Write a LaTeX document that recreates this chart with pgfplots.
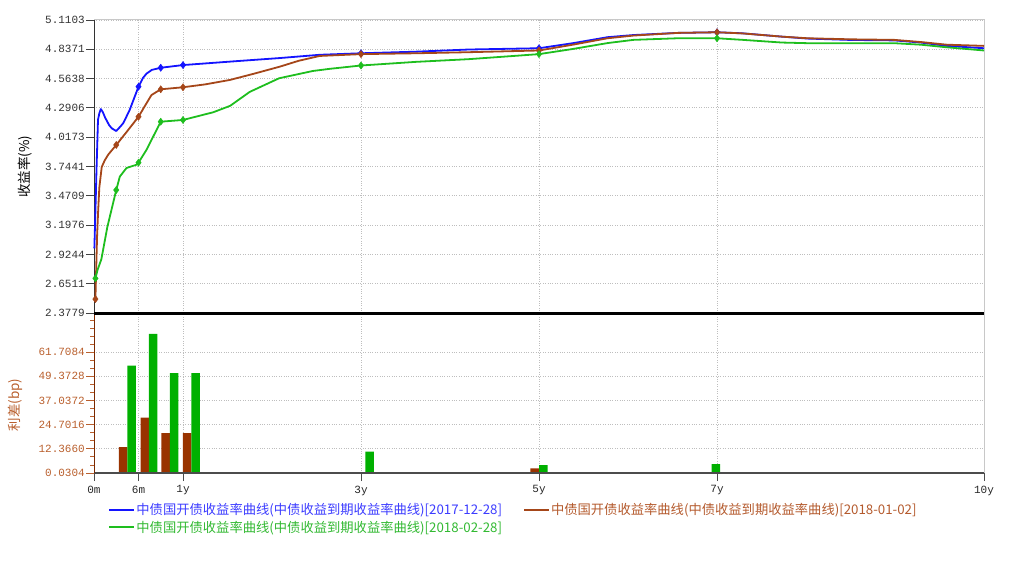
\documentclass[border=0pt]{standalone}
\usepackage{pgfplots}
\pgfplotsset{compat=1.18}
\usepackage{fontspec}
\setmainfont{Noto Sans CJK SC}
\newfontfamily\monof{Liberation Mono}
\definecolor{cblue}{RGB}{20,20,255}
\definecolor{cbrown}{RGB}{165,70,25}
\definecolor{cgreen}{RGB}{30,190,30}
\definecolor{bbrown}{RGB}{153,51,0}
\definecolor{bgreen}{RGB}{0,176,0}
\definecolor{lblue}{RGB}{60,60,255}
\definecolor{lbrown}{RGB}{180,90,45}
\definecolor{lgreen}{RGB}{50,185,50}
\definecolor{gridc}{RGB}{190,190,190}
\definecolor{framec}{RGB}{200,200,200}
\definecolor{axbrown}{RGB}{185,95,45}
\newcommand{\tickf}{\monof\fontsize{11}{12}\selectfont}
\begin{document}
\begin{tikzpicture}
\useasboundingbox (0,0) rectangle (1024pt,562pt);
% ---------------- top panel ----------------
\begin{axis}[
  at={(94pt,249pt)}, anchor=south west,
  width=890pt, height=293pt, scale only axis,
  xmin=0, xmax=10, ymin=2.3779, ymax=5.1103,
  xtick={0.5,1,3,5,7}, xticklabels={},
  ytick={2.3779,2.6511,2.9244,3.1976,3.4709,3.7441,4.0173,4.2906,4.5638,4.8371,5.1103},
  yticklabels={2.3779,2.6511,2.9244,3.1976,3.4709,3.7441,4.0173,4.2906,4.5638,4.8371,5.1103},
  minor y tick num=4,
  ymajorgrids, xmajorgrids,
  grid style={gridc, dotted, line width=0.8pt},
  axis line style={draw=none},
  tick align=outside, ytick pos=left,
  major tick length=8pt, minor tick length=4pt,
  tick style={black!75, line width=0.8pt},
  xtick style={draw=none},
  yticklabel style={font=\tickf, text=black!80, inner sep=1pt},
  ylabel={收益率(\%)},
  every axis y label/.style={at={(rel axis cs:0,0.5)}, xshift=-69pt, rotate=90, anchor=center, font=\fontsize{13.5}{15}\selectfont},
  legend columns=2,
  legend style={at={(axis description cs:0.016,-0.645)}, anchor=north west, draw=none, fill=none, inner sep=0pt,
    nodes={inner sep=1pt, font=\fontsize{13.3}{15}\selectfont},
    row sep=3pt,
    /tikz/every even column/.append style={column sep=20pt}},
  legend cell align=left,
  legend image code/.code={\draw[#1, line width=2pt] (0pt,0pt) -- (25pt,0pt);},
  clip=false,
]
\draw[framec, line width=1pt] (rel axis cs:0,1) -- (rel axis cs:1,1) -- (rel axis cs:1,0);
\draw[black!80, line width=1pt] (rel axis cs:0,0) -- (rel axis cs:0,1);

\addplot[cblue, line width=1.8pt, line join=round] coordinates {
(0.004,2.98) (0.015,3.30) (0.027,3.68) (0.045,4.18) (0.06,4.24) (0.077,4.28) (0.10,4.25) (0.125,4.20) (0.17,4.13) (0.2,4.10) (0.25,4.075) (0.30,4.12) (0.33,4.15) (0.40,4.27) (0.5,4.488) (0.55,4.57) (0.59,4.61) (0.65,4.645) (0.75,4.665) (1.0,4.69) (1.525,4.722) (2.08,4.755) (2.54,4.786) (3.0,4.80) (3.62,4.815) (4.21,4.835) (5.0,4.847) (5.38,4.894) (5.77,4.95) (6.06,4.97) (6.56,4.99) (7.0,4.996) (7.29,4.986) (7.73,4.955) (8.02,4.937) (8.51,4.924) (8.99,4.92) (9.29,4.90) (9.58,4.869) (10.0,4.847)};
\addlegendentry{\textcolor{lblue}{中债国开债收益率曲线(中债收益到期收益率曲线)[2017-12-28]}}

\addplot[cbrown, line width=1.8pt, line join=round] coordinates {
(0.016,2.508) (0.025,2.80) (0.035,3.10) (0.045,3.30) (0.06,3.55) (0.087,3.74) (0.12,3.80) (0.16,3.855) (0.25,3.945) (0.37,4.07) (0.5,4.208) (0.59,4.334) (0.645,4.41) (0.75,4.464) (1.0,4.483) (1.25,4.51) (1.525,4.551) (1.8,4.61) (2.087,4.675) (2.3,4.73) (2.536,4.775) (3.0,4.792) (3.62,4.80) (4.21,4.81) (5.0,4.826) (5.38,4.88) (5.77,4.94) (6.06,4.965) (6.56,4.99) (7.0,4.996) (7.29,4.985) (7.73,4.955) (8.02,4.94) (8.51,4.93) (8.99,4.925) (9.29,4.905) (9.58,4.88) (10.0,4.869)};
\addlegendentry{\textcolor{lbrown}{中债国开债收益率曲线(中债收益到期收益率曲线)[2018-01-02]}}

\addplot[cgreen, line width=1.8pt, line join=round] coordinates {
(0.016,2.701) (0.04,2.78) (0.083,2.88) (0.15,3.18) (0.25,3.525) (0.29,3.65) (0.365,3.73) (0.475,3.76) (0.5,3.78) (0.59,3.90) (0.75,4.162) (1.0,4.178) (1.34,4.25) (1.53,4.31) (1.75,4.44) (2.08,4.567) (2.46,4.635) (2.65,4.655) (3.0,4.686) (3.62,4.72) (4.21,4.745) (5.0,4.792) (5.38,4.84) (5.77,4.895) (6.06,4.925) (6.56,4.94) (7.0,4.94) (7.29,4.925) (7.73,4.90) (8.02,4.894) (8.51,4.894) (8.99,4.894) (9.29,4.88) (9.58,4.856) (10.0,4.826)};
\addlegendentry{\textcolor{lgreen}{中债国开债收益率曲线(中债收益到期收益率曲线)[2018-02-28]}}

\addplot[forget plot, only marks, mark=diamond*, mark size=3.6pt, cblue] coordinates {
(0.5,4.488) (0.75,4.665) (1,4.69) (3,4.80) (5,4.847) (7,4.996)};
\addplot[forget plot, only marks, mark=diamond*, mark size=3.6pt, cbrown] coordinates {
(0.016,2.508) (0.25,3.945) (0.5,4.208) (0.75,4.464) (1,4.483) (3,4.792) (5,4.826) (7,4.996)};
\addplot[forget plot, only marks, mark=diamond*, mark size=3.6pt, cgreen] coordinates {
(0.016,2.701) (0.25,3.525) (0.5,3.78) (0.75,4.162) (1,4.178) (3,4.686) (5,4.792) (7,4.94)};
\end{axis}

% ---------------- bottom panel ----------------
\begin{axis}[
  at={(94pt,89pt)}, anchor=south west,
  width=890pt, height=160pt, scale only axis,
  xmin=0, xmax=10, ymin=0.0304, ymax=81.7,
  xtick={0,0.5,1,3,5,7,10}, xticklabels={0m,6m,1y,3y,5y,7y,10y},
  ytick={0.0304,12.3660,24.7016,37.0372,49.3728,61.7084},
  yticklabels={0.0304,12.3660,24.7016,37.0372,49.3728,61.7084},
  minor ytick={4.1423,8.2542,16.4779,20.5898,28.8135,32.9254,41.1491,45.2610,53.4847,57.5966,65.8203,69.9322,74.0441,78.156},
  ymajorgrids, xmajorgrids,
  grid style={gridc, dotted, line width=0.8pt},
  axis line style={draw=none},
  tick align=outside, ytick pos=left, xtick pos=bottom,
  major tick length=8pt, minor tick length=4pt,
  ytick style={axbrown, line width=0.8pt},
  xtick style={black!70, line width=0.8pt},
  yticklabel style={font=\tickf, text=axbrown, inner sep=1pt},
  xticklabel style={font=\tickf, text=black!85, inner sep=4.5pt},
  ylabel={利差(bp)},
  every axis y label/.style={at={(rel axis cs:0,0.425)}, xshift=-79pt, rotate=90, anchor=center, font=\fontsize{13.5}{15}\selectfont, text=axbrown},
  clip=false,
]
\addplot[ybar, bar width=0.0955, bar shift=0pt, fill=bbrown, draw=none] coordinates {
(0.328,13.3) (0.573,28.3) (0.804,20.4) (1.047,20.4) (4.952,2.4)};
\addplot[ybar, bar width=0.0955, bar shift=0pt, fill=bgreen, draw=none] coordinates {
(0.424,54.9) (0.665,71.0) (0.901,51.0) (1.143,51.0) (3.098,11.0) (5.049,4.1) (6.988,4.6)};
\draw[framec, line width=1pt] (rel axis cs:1,0) -- (rel axis cs:1,1);
\draw[black!70, line width=1.8pt] (rel axis cs:0,0) -- (rel axis cs:1,0);
\draw[bbrown!80!black, line width=1pt] (rel axis cs:0,0) -- (rel axis cs:0,1);
\draw[black, line width=3pt] (rel axis cs:0,1) -- (rel axis cs:1,1);
\end{axis}
\end{tikzpicture}
\end{document}
